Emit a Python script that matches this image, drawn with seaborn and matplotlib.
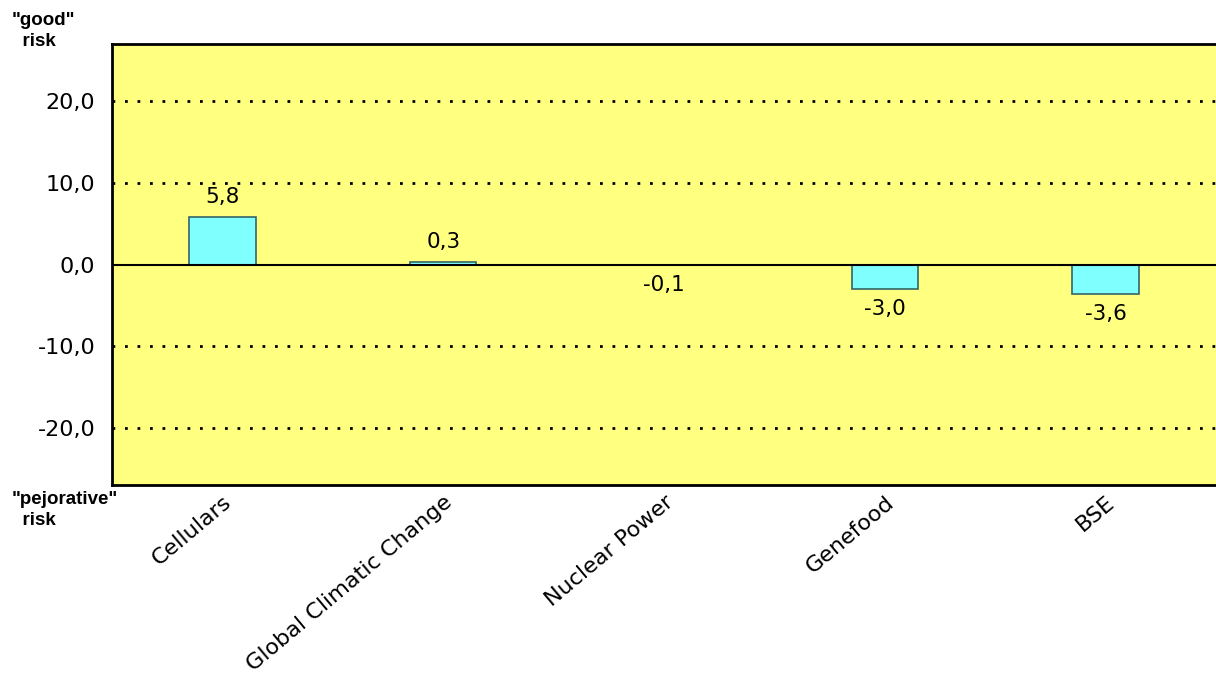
import matplotlib
matplotlib.use("Agg")
import matplotlib.pyplot as plt
import seaborn as sns
import pandas as pd

categories = ["Cellulars", "Global Climatic Change", "Nuclear Power", "Genefood", "BSE"]
values = [5.8, 0.3, -0.1, -3.0, -3.6]
y_ticks = [-20, -10, 0, 10, 20]

sns.set_style("white")
plt.rcParams["font.family"] = ["DejaVu Sans"]
plt.rcParams["text.color"] = "black"
plt.rcParams["xtick.color"] = "black"
plt.rcParams["ytick.color"] = "black"

df = pd.DataFrame({"risk": categories, "score": values})

fig = plt.figure(figsize=(12.16, 6.81), dpi=100)
ax = fig.add_axes([0.0921, 0.2878, 0.9079, 0.6476])
ax.set_facecolor("#FFFF80")

sns.barplot(data=df, x="risk", y="score", ax=ax, width=0.3,
            color="#80FFFF", saturation=1, edgecolor="#336666", linewidth=1.2)

ax.set_xlim(-0.5, 4.5)
ax.set_ylim(-27, 27)
ax.set_yticks(y_ticks)
ax.set_yticklabels([f"{t:.1f}".replace(".", ",") for t in y_ticks], fontsize=16)

# dotted reference lines and solid zero line
for t in y_ticks:
    if t != 0:
        ax.axhline(t, color="black", linewidth=2, linestyle=(0, (1, 3.5)), zorder=0.5)
ax.axhline(0, color="black", linewidth=1.5, zorder=3)

# value labels at the end of each bar
for bars in ax.containers:
    labels = [f"{v:.1f}".replace(".", ",") for v in values]
    ax.bar_label(bars, labels=labels, padding=7, fontsize=15.5, color="black")

ax.set_xlabel("")
ax.set_ylabel("")
ax.set_xticks(range(len(categories)))
ax.set_xticklabels(categories, rotation=40, ha="right", rotation_mode="anchor", fontsize=16)
ax.tick_params(axis="y", length=0, pad=12)
ax.tick_params(axis="x", length=0, pad=5)

for side in ["left", "top", "bottom"]:
    ax.spines[side].set_visible(True)
    ax.spines[side].set_color("black")
    ax.spines[side].set_linewidth(2)
ax.spines["right"].set_visible(False)

fig.text(12 / 1216, 1 - 31 / 681, "\"good\"\n  risk", fontsize=13.5, fontweight="bold",
         va="center", ha="left", linespacing=1.3, family="Liberation Sans")
fig.text(12 / 1216, 1 - 510 / 681, "\"pejorative\"\n  risk", fontsize=13.5, fontweight="bold",
         va="center", ha="left", linespacing=1.3, family="Liberation Sans")

fig.savefig("out.png", dpi=100)
